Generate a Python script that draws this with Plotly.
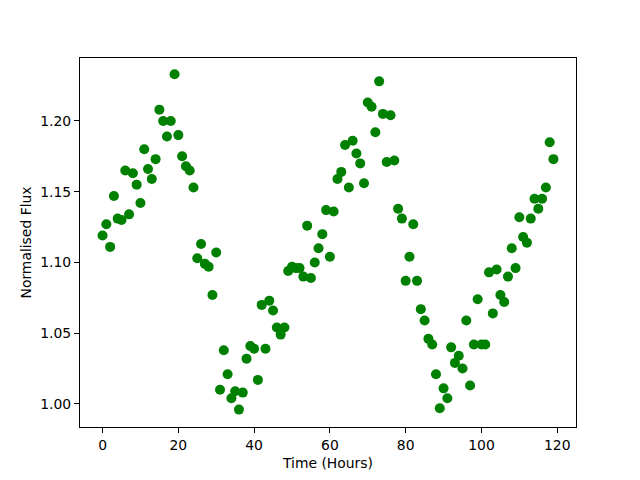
import plotly.graph_objects as go

time_hours = list(range(120))
flux = [
    1.119, 1.127, 1.111, 1.147, 1.131, 1.130, 1.165, 1.134, 1.163, 1.155,
    1.142, 1.180, 1.166, 1.159, 1.173, 1.208, 1.200, 1.189, 1.200, 1.233,
    1.190, 1.175, 1.168, 1.165, 1.153, 1.103, 1.113, 1.099, 1.097, 1.077,
    1.107, 1.010, 1.038, 1.021, 1.004, 1.009, 0.996, 1.008, 1.032, 1.041,
    1.039, 1.017, 1.070, 1.039, 1.073, 1.066, 1.054, 1.049, 1.054, 1.094,
    1.097, 1.096, 1.096, 1.090, 1.126, 1.089, 1.100, 1.110, 1.120, 1.137,
    1.104, 1.136, 1.159, 1.164, 1.183, 1.153, 1.186, 1.177, 1.170, 1.156,
    1.213, 1.210, 1.192, 1.228, 1.205, 1.171, 1.204, 1.172, 1.138, 1.131,
    1.087, 1.104, 1.127, 1.087, 1.067, 1.059, 1.046, 1.042, 1.021, 0.997,
    1.011, 1.004, 1.040, 1.029, 1.034, 1.025, 1.059, 1.013, 1.042, 1.074,
    1.042, 1.042, 1.093, 1.064, 1.095, 1.077, 1.072, 1.090, 1.110, 1.096,
    1.132, 1.118, 1.114, 1.131, 1.145, 1.138, 1.145, 1.153, 1.185, 1.173,
]
x_ticks = [0, 20, 40, 60, 80, 100, 120]
y_ticks = [1.00, 1.05, 1.10, 1.15, 1.20]

fig = go.Figure(go.Scatter(
    x=time_hours, y=flux, mode="markers",
    marker=dict(color="green", size=10, line=dict(width=0)),
))

font = dict(family="DejaVu Sans", size=13.9, color="black")
axis_common = dict(
    showline=True, linecolor="black", linewidth=1, mirror=True,
    ticks="outside", ticklen=5, tickwidth=1, tickcolor="black",
    showgrid=False, zeroline=False, tickfont=font, automargin=False,
)
fig.update_layout(
    width=640, height=480,
    margin=dict(l=72, r=72, t=50, b=61),
    paper_bgcolor="white", plot_bgcolor="white",
    showlegend=False,
    font=font,
    xaxis=dict(range=[-5.95, 124.95], tickvals=x_ticks,
               title=dict(text="Time (Hours)", font=font, standoff=6), **axis_common),
    yaxis=dict(range=[0.9837, 1.2445], tickvals=y_ticks, tickformat=".2f",
               title=dict(text="Normalised Flux", font=font, standoff=5), **axis_common),
)
fig.write_html("out.html")
